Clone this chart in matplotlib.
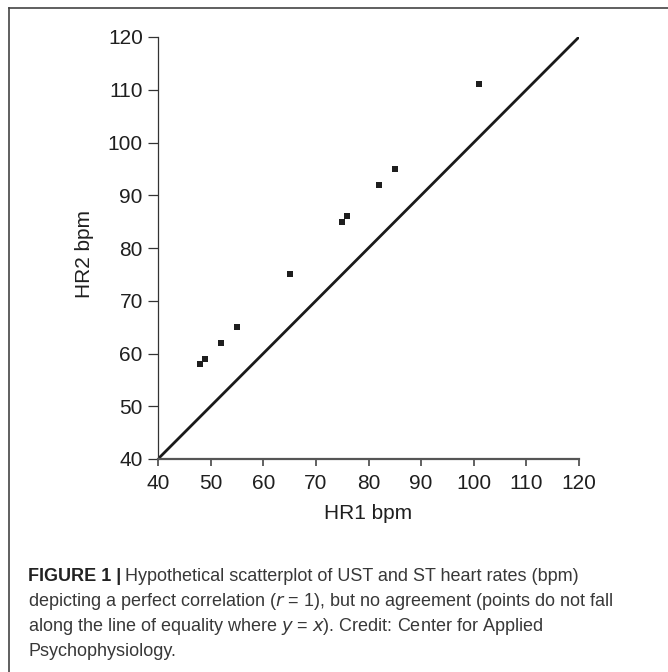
import matplotlib
matplotlib.use("Agg")
import matplotlib.pyplot as plt
from matplotlib.lines import Line2D

plt.rcParams['font.family'] = ['Liberation Sans', 'DejaVu Sans']

# Data
hr1 = [48, 49, 52, 55, 65, 75, 76, 82, 85, 101]
hr2 = [58, 59, 62, 65, 75, 85, 86, 92, 95, 111]
equality = [40, 120]
ticks = [40, 50, 60, 70, 80, 90, 100, 110, 120]

W, H = 668, 672
fig = plt.figure(figsize=(W / 100, H / 100), dpi=100)
fig.patch.set_facecolor('white')

def fx(px):
    return px / W

def fy(py):
    return 1 - py / H

L, R, T, B = 158, 579, 37, 459
ax = fig.add_axes([fx(L), fy(B), fx(R) - fx(L), fy(T) - fy(B)])
ax.plot(equality, equality, color='#1a1a1a', lw=2.0, solid_capstyle='butt', zorder=2)
ax.plot(hr1, hr2, linestyle='none', marker='s', markersize=4.3, color='#1e1e1e',
        markeredgewidth=0, zorder=3)

ax.set_xlim(40, 120)
ax.set_ylim(40, 120)
ax.set_xticks(ticks)
ax.set_yticks(ticks)
ax.spines['top'].set_visible(False)
ax.spines['right'].set_visible(False)
ax.spines['left'].set_color('#333333')
ax.spines['left'].set_linewidth(0.9)
ax.spines['bottom'].set_color('#555555')
ax.spines['bottom'].set_linewidth(1.6)
ax.tick_params(axis='y', direction='out', length=7.5, width=0.9, color='#333333',
               labelsize=15, labelcolor='#1f1f1f', pad=3.4)
ax.tick_params(axis='x', direction='out', length=5.3, width=1.3, color='#555555',
               labelsize=15, labelcolor='#1f1f1f', pad=5.3)
ax.set_xlabel('HR1 bpm', fontsize=15, color='#1f1f1f')
ax.set_ylabel('HR2 bpm', fontsize=15, color='#1f1f1f')
ax.xaxis.set_label_coords(0.5, (B - 504) / (B - T))
ax.yaxis.set_label_coords((94 - L) / (R - L), (B - 254) / (B - T))

# Figure border (top and left)
fig.add_artist(Line2D([fx(9), 1], [fy(8), fy(8)], color='#444444', lw=1.2,
                      transform=fig.transFigure))
fig.add_artist(Line2D([fx(9), fx(9)], [fy(8), 0], color='#444444', lw=1.2,
                      transform=fig.transFigure))

# Caption
cap_color = '#383838'
cs = 13
base = [581, 606, 631, 656]
t = fig.text(fx(28), fy(base[0]), 'FIGURE 1 |', fontsize=cs, fontweight='bold',
             color='#222222', va='baseline', ha='left')
fig.canvas.draw()
bb = t.get_window_extent()
fig.text(bb.x1 / W + fx(4), fy(base[0]), 'Hypothetical scatterplot of UST and ST heart rates (bpm)',
         fontsize=cs, color=cap_color, va='baseline', ha='left')
fig.text(fx(28), fy(base[1]), 'depicting a perfect correlation ($\\it{r}$ = 1), but no agreement (points do not fall',
         fontsize=cs, color=cap_color, va='baseline', ha='left')
fig.text(fx(28), fy(base[2]), 'along the line of equality where $\\it{y}$ = $\\it{x}$). Credit: Center for Applied',
         fontsize=cs, color=cap_color, va='baseline', ha='left')
fig.text(fx(28), fy(base[3]), 'Psychophysiology.',
         fontsize=cs, color=cap_color, va='baseline', ha='left')

fig.savefig('out.png', dpi=100, facecolor='white')
